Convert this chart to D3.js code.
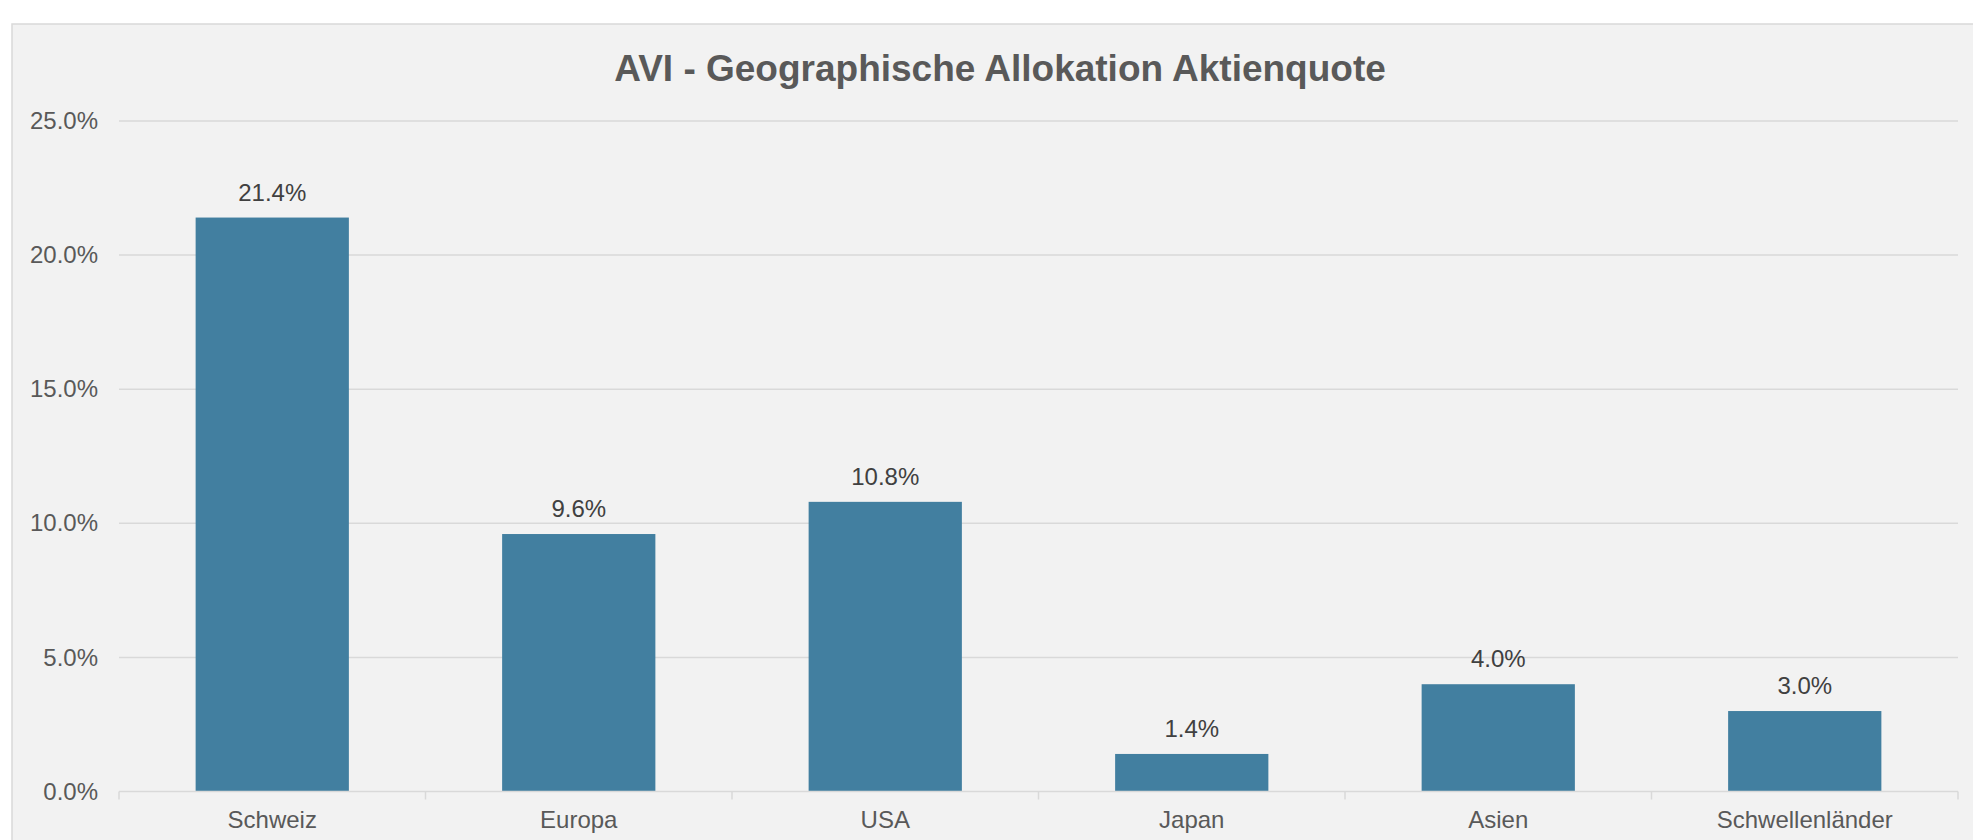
<!DOCTYPE html>
<html>
<head>
<meta charset="utf-8">
<script src="https://cdn.jsdelivr.net/npm/d3@7"></script>
<style>
  body { margin: 0; background: #ffffff; }
  svg { display: block; font-family: "Liberation Sans", Arial, sans-serif; }
</style>
</head>
<body>
<div id="chart"></div>
<script>
// chart data
const categories = ["Schweiz", "Europa", "USA", "Japan", "Asien", "Schwellenländer"];
const values = [21.4, 9.6, 10.8, 1.4, 4.0, 3.0];
const yTicks = [0, 5, 10, 15, 20, 25];
const title = "AVI - Geographische Allokation Aktienquote";

const width = 1973;
const height = 840;
const margin = { top: 121, right: 15, bottom: 48.5, left: 119 };

const svg = d3.select("#chart")
    .append("svg")
        .attr("width", width)
        .attr("height", height);

// panel background
svg.append("rect")
    .attr("x", 12)
    .attr("y", 24)
    .attr("width", width + 20)
    .attr("height", height + 20)
    .attr("fill", "#f2f2f2")
    .attr("stroke", "#d9d9d9")
    .attr("stroke-width", 1.5);

// title
svg.append("text")
    .attr("x", 1000)
    .attr("y", 81)
    .attr("text-anchor", "middle")
    .attr("font-size", "37px")
    .attr("font-weight", "bold")
    .attr("fill", "#595959")
    .text(title);

const x = d3.scaleBand()
    .domain(categories)
    .range([margin.left, width - margin.right])
    .paddingInner(0.5)
    .paddingOuter(0.25);

const y = d3.scaleLinear()
    .domain([0, 25])
    .range([height - margin.bottom, margin.top]);

// gridlines
svg.append("g")
    .selectAll("line")
    .data(yTicks.filter(d => d > 0))
    .enter()
    .append("line")
        .attr("x1", margin.left)
        .attr("x2", width - margin.right)
        .attr("y1", d => y(d))
        .attr("y2", d => y(d))
        .attr("stroke", "#d9d9d9")
        .attr("stroke-width", 1.5);

// y axis labels
const yAxis = d3.axisLeft(y)
    .tickValues(yTicks)
    .tickFormat(d => d.toFixed(1) + "%")
    .tickSize(0)
    .tickPadding(21);

svg.append("g")
    .attr("transform", `translate(${margin.left},0)`)
    .call(yAxis)
    .call(g => g.select(".domain").remove())
    .call(g => g.selectAll("text")
        .attr("font-size", "24px")
        .attr("font-family", "Liberation Sans, Arial, sans-serif")
        .attr("fill", "#595959"));

// bars
svg.append("g")
    .selectAll("rect")
    .data(values)
    .enter()
    .append("rect")
        .attr("x", (d, i) => x(categories[i]))
        .attr("y", d => y(d))
        .attr("width", x.bandwidth())
        .attr("height", d => y(0) - y(d))
        .attr("fill", "#427fa0");

// value labels
svg.append("g")
    .selectAll("text")
    .data(values)
    .enter()
    .append("text")
        .attr("x", (d, i) => x(categories[i]) + x.bandwidth() / 2)
        .attr("y", d => y(d) - 17)
        .attr("text-anchor", "middle")
        .attr("font-size", "24px")
        .attr("fill", "#404040")
        .text(d => d.toFixed(1) + "%");

// x axis: baseline, ticks between categories, labels
const step = x.step();
const xAxisG = svg.append("g");
xAxisG.append("line")
    .attr("x1", margin.left)
    .attr("x2", width - margin.right)
    .attr("y1", y(0))
    .attr("y2", y(0))
    .attr("stroke", "#d9d9d9")
    .attr("stroke-width", 1.5);

xAxisG.selectAll(".tick")
    .data(d3.range(categories.length + 1))
    .enter()
    .append("line")
        .attr("x1", i => margin.left + i * step)
        .attr("x2", i => margin.left + i * step)
        .attr("y1", y(0))
        .attr("y2", y(0) + 8)
        .attr("stroke", "#d9d9d9")
        .attr("stroke-width", 1.5);

xAxisG.selectAll(".label")
    .data(categories)
    .enter()
    .append("text")
        .attr("x", d => x(d) + x.bandwidth() / 2)
        .attr("y", 828)
        .attr("text-anchor", "middle")
        .attr("font-size", "24px")
        .attr("fill", "#595959")
        .text(d => d);
</script>
</body>
</html>
